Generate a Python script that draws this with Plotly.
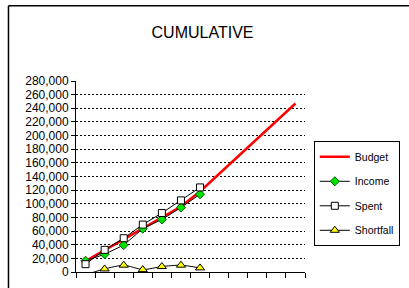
import plotly.graph_objects as go

months = [1, 2, 3, 4, 5, 6, 7, 8, 9, 10, 11, 12]
budget = [16000, 32000, 48000, 64000, 80000, 96000, 118000, 144000, 170000, 195000, 221000, 247000]
income = [16500, 26000, 39500, 63500, 77000, 94500, 114000]
spent = [11500, 32500, 49500, 69500, 86500, 105000, 124000]
shortfall = [-4000, 4500, 10000, 3500, 8000, 10000, 6000]
y_ticks = list(range(0, 280001, 20000))
y_labels = ["0" if v == 0 else f"{v:,}" for v in y_ticks]

FONT = "Liberation Sans, Arial, sans-serif"

fig = go.Figure()
fig.add_trace(go.Scatter(x=months, y=budget, name="Budget", mode="lines",
                         line=dict(color="#ff0000", width=2.5), cliponaxis=False))
fig.add_trace(go.Scatter(x=months[:len(income)], y=income, name="Income", mode="lines+markers",
                         line=dict(color="#000000", width=1),
                         marker=dict(symbol="diamond", size=7, color="#00e000",
                                     line=dict(color="#006000", width=1)),
                         cliponaxis=False))
fig.add_trace(go.Scatter(x=months[:len(spent)], y=spent, name="Spent", mode="lines+markers",
                         line=dict(color="#000000", width=1),
                         marker=dict(symbol="square", size=7, color="#ffffff",
                                     line=dict(color="#000000", width=1)),
                         cliponaxis=False))
fig.add_trace(go.Scatter(x=months[:len(shortfall)], y=shortfall, name="Shortfall", mode="lines+markers",
                         line=dict(color="#000000", width=1, shape="spline", smoothing=0.6),
                         marker=dict(symbol="triangle-up", size=8, color="#ffff00",
                                     line=dict(color="#000000", width=1)),
                         cliponaxis=False))

L, R, T, B = 76, 310, 81, 279
W, H = 409, 288
pw, ph = R - L, B - T

fig.update_layout(
    width=W, height=H,
    margin=dict(l=L, r=W - R, t=T, b=H - B, pad=0),
    paper_bgcolor="white", plot_bgcolor="white",
    font=dict(family=FONT, size=12, color="black"),
    title=dict(text="CUMULATIVE", x=202.5 / W, xanchor="center", xref="container",
               y=1 - 32 / H, yanchor="middle", yref="container",
               font=dict(family=FONT, size=16, color="black")),
    showlegend=True,
    hovermode=False,
    legend=dict(x=(319 - L) / pw, y=(B - 143.5) / ph, xanchor="left", yanchor="top",
                bordercolor="black", borderwidth=1, bgcolor="white",
                font=dict(family=FONT, size=10.5, color="black"),
                tracegroupgap=5.5, itemwidth=30),
    xaxis=dict(range=[0.5, 12.5], tickmode="array", tickvals=[i + 0.5 for i in range(13)],
               showticklabels=False, ticks="outside", ticklen=5, tickcolor="black", tickwidth=1,
               showline=True, linecolor="black", linewidth=1, showgrid=False, zeroline=False),
    yaxis=dict(range=[0, 280000], tickmode="array", tickvals=y_ticks, ticktext=y_labels,
               ticks="outside", ticklen=4, tickcolor="black", tickwidth=1,
               showline=True, linecolor="black", linewidth=1,
               showgrid=True, gridcolor="#000000", gridwidth=1, griddash="2px,2px",
               zeroline=False, tickfont=dict(family=FONT, size=12, color="black")),
    shapes=[
        dict(type="line", xref="paper", yref="paper", x0=(7 - L) / pw, x1=(420 - L) / pw,
             y0=(B - 3) / ph, y1=(B - 3) / ph, line=dict(color="black", width=1.5)),
        dict(type="line", xref="paper", yref="paper", x0=(7 - L) / pw, x1=(7 - L) / pw,
             y0=(B - 3) / ph, y1=(B - 300) / ph, line=dict(color="black", width=1.5)),
    ],
)
for i, name in enumerate(["Budget", "Income", "Spent", "Shortfall"]):
    fig.data[i].legendgroup = name

fig.write_html("out.html", config={"displayModeBar": False, "staticPlot": True},
               post_script="document.body.style.margin='0';document.body.style.overflow='hidden';")
